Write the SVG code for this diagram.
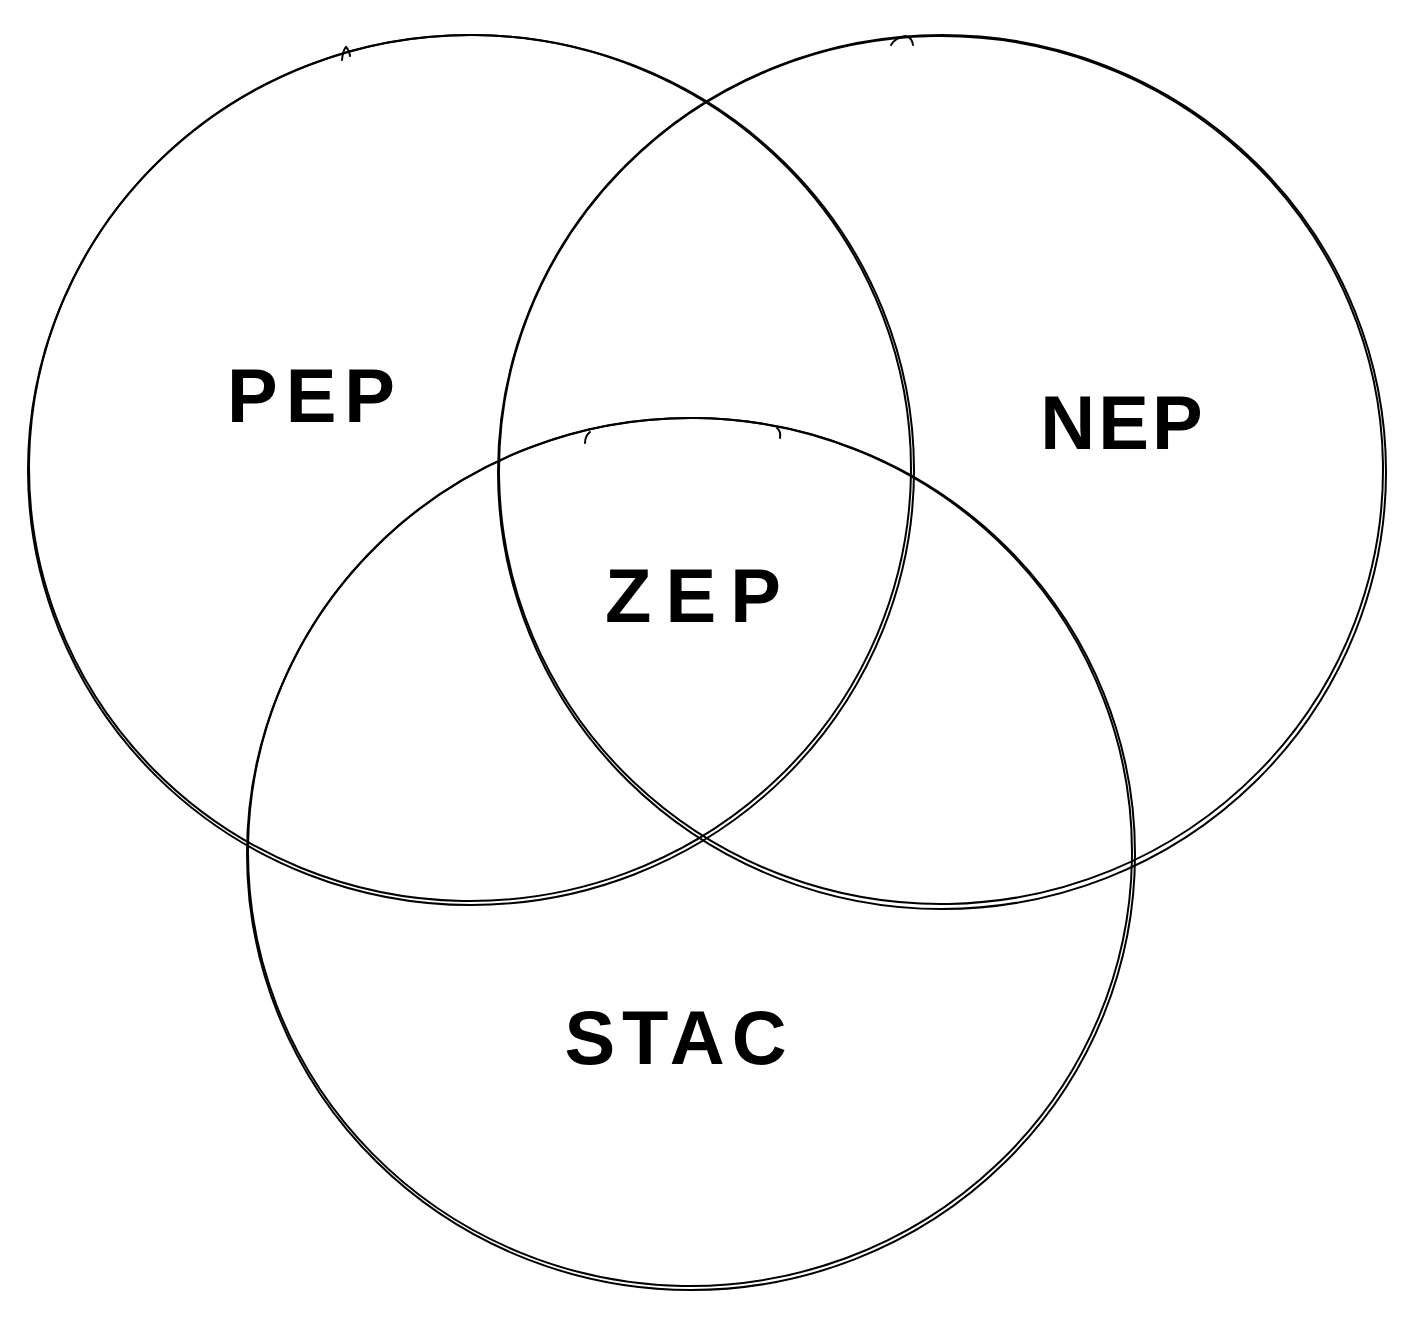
<svg xmlns="http://www.w3.org/2000/svg" width="1414" height="1321" viewBox="0 0 1414 1321">
<style>
.c{fill:none;stroke:#000;stroke-width:2;stroke-linecap:round}
.t{font-family:"Liberation Sans",Arial,sans-serif;font-weight:bold;font-size:76px;fill:#000;text-anchor:middle}
</style>
<rect width="1414" height="1321" fill="#fff"/>
<g id="pep">
<ellipse class="c" cx="471" cy="470" rx="443" ry="435"/>
<ellipse class="c" cx="470" cy="468" rx="441" ry="433" transform="rotate(1 470 468)"/>
<path class="c" d="M342 60 Q343 50 346 47 Q349 50 350 56"/>
<text class="t" x="315" y="422" letter-spacing="8">PEP</text>
</g>
<g id="nep">
<ellipse class="c" cx="942" cy="472" rx="444" ry="437"/>
<ellipse class="c" cx="941" cy="470" rx="442" ry="434" transform="rotate(-1 941 470)"/>
<path class="c" d="M891 45 Q895 38 905 36 Q912 37 913 45"/>
<text class="t" x="1123" y="449" letter-spacing="3">NEP</text>
</g>
<g id="stac">
<ellipse class="c" cx="691" cy="854" rx="444" ry="436"/>
<ellipse class="c" cx="690" cy="852" rx="442" ry="434" transform="rotate(1 690 852)"/>
<path class="c" d="M585 443 Q585 436 590 432"/>
<path class="c" d="M777 428 Q781 431 780 438"/>
<text class="t" x="679" y="1064" letter-spacing="7">STAC</text>
</g>
<g id="zep">
<text class="t" x="700" y="622" letter-spacing="14">ZEP</text>
</g>
<g id="connectors"></g>
</svg>
